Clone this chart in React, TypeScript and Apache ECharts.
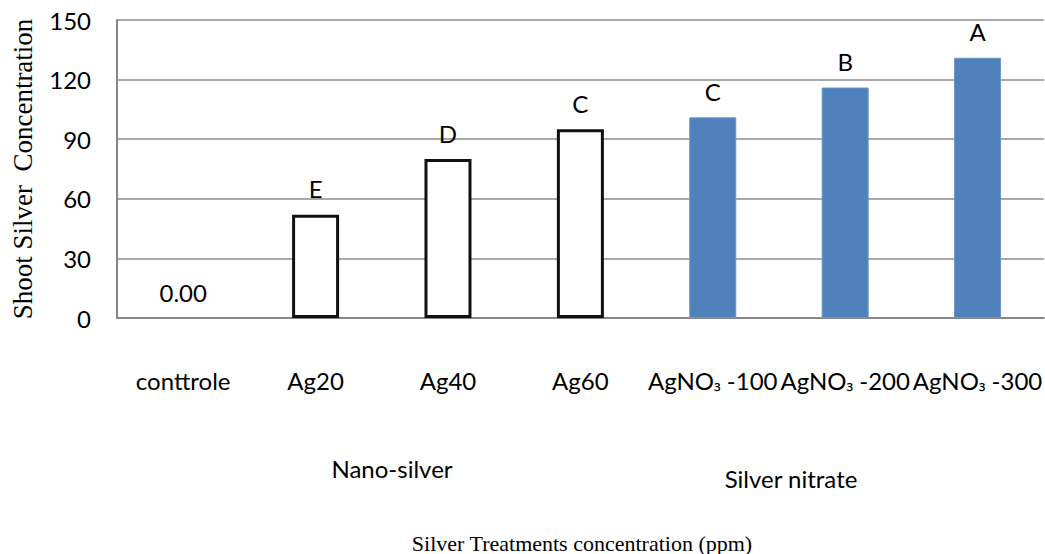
import React, { useEffect, useRef } from "react";
import * as echarts from "echarts";

const categories = ["conttrole", "Ag20", "Ag40", "Ag60", "AgNO₃ -100", "AgNO₃ -200", "AgNO₃ -300"];
const values = [0, 52, 80, 95, 101, 116, 131];
const letters = ["0.00", "E", "D", "C", "C", "B", "A"];
const groupKinds = ["none", "nano", "nano", "nano", "nitrate", "nitrate", "nitrate"];
const yTicks = [0, 30, 60, 90, 120, 150];
const groupLabels = ["Nano-silver", "Silver nitrate"];
const yTitle = "Shoot Silver  Concentration";
const xTitle = "Silver Treatments concentration (ppm)";

const SANS = "Lato, 'Open Sans', sans-serif";
const SERIF = "'Liberation Serif', 'DejaVu Serif', serif";

export default function App() {
  const ref = useRef<HTMLDivElement>(null);
  useEffect(() => {
    if (!ref.current) return;
    const chart = echarts.init(ref.current, undefined, { renderer: "svg" });
    const data = values.map((v, i) => {
      const kind = groupKinds[i];
      if (kind === "nitrate") {
        return {
          value: v,
          itemStyle: { color: "#4F81BD", borderColor: "#6A95CB", borderWidth: 1 },
        };
      }
      if (kind === "none") {
        return {
          value: v,
          itemStyle: { color: "#FFFFFF", borderColor: "#FFFFFF", borderWidth: 0, opacity: 1 },
        };
      }
      return {
        value: v,
        itemStyle: { color: "#FFFFFF", borderColor: "#111111", borderWidth: 3 },
      };
    });
    chart.setOption({
      animation: false,
      backgroundColor: "#FFFFFF",
      grid: { left: 117, top: 20, width: 931, height: 298, containLabel: false },
      xAxis: {
        type: "category",
        data: categories,
        axisLine: { show: true, lineStyle: { color: "#878787", width: 2 } },
        axisTick: { show: false },
        axisLabel: {
          interval: 0,
          hideOverlap: false,
          margin: 50,
          color: "#000000",
          fontFamily: SANS,
          fontSize: 24,
          formatter: (v: string) => {
            const k = v.indexOf("₃");
            if (k < 0) return v;
            return v.slice(0, k) + "{s|₃}{t|" + v.slice(k + 1) + "}";
          },
          rich: {
            s: { fontFamily: "'Noto Sans', sans-serif", fontSize: 19, color: "#000000", padding: [4, 0, 0, 0] },
            t: { fontFamily: SANS, fontSize: 24, color: "#000000" },
          },
        },
      },
      yAxis: {
        type: "value",
        min: yTicks[0],
        max: yTicks[yTicks.length - 1],
        interval: 30,
        axisLine: { show: true, lineStyle: { color: "#878787", width: 2 } },
        axisTick: { show: false },
        splitLine: { show: true, lineStyle: { color: "#8C8C8C", width: 1.5 } },
        axisLabel: {
          margin: 26,
          color: "#000000",
          fontFamily: SANS,
          fontSize: 24,
        },
      },
      series: [
        {
          type: "bar",
          data,
          barWidth: 47,
          label: {
            show: true,
            position: "top",
            distance: 14,
            color: "#000000",
            fontFamily: SANS,
            fontSize: 24,
            formatter: (p: any) => letters[p.dataIndex],
          },
        },
      ],
      graphic: [
        {
          type: "text",
          x: 23,
          y: 169,
          rotation: Math.PI / 2,
          style: {
            text: yTitle,
            fontFamily: SERIF,
            fontSize: 27,
            fill: "#000000",
            align: "center",
            verticalAlign: "middle",
          },
        },
        {
          type: "text",
          x: 392,
          y: 468,
          style: {
            text: groupLabels[0],
            fontFamily: SANS,
            fontSize: 24,
            fill: "#000000",
            align: "center",
            verticalAlign: "middle",
          },
        },
        {
          type: "text",
          x: 791,
          y: 478,
          style: {
            text: groupLabels[1],
            fontFamily: SANS,
            fontSize: 24,
            fill: "#000000",
            align: "center",
            verticalAlign: "middle",
          },
        },
        {
          type: "text",
          x: 582,
          y: 543,
          style: {
            text: xTitle,
            fontFamily: SERIF,
            fontSize: 22,
            fill: "#000000",
            align: "center",
            verticalAlign: "middle",
          },
        },
      ],
    });
    return () => chart.dispose();
  }, []);
  return (
    <div
      ref={ref}
      style={{ position: "fixed", left: 0, top: 0, width: 1045, height: 554 }}
    />
  );
}
